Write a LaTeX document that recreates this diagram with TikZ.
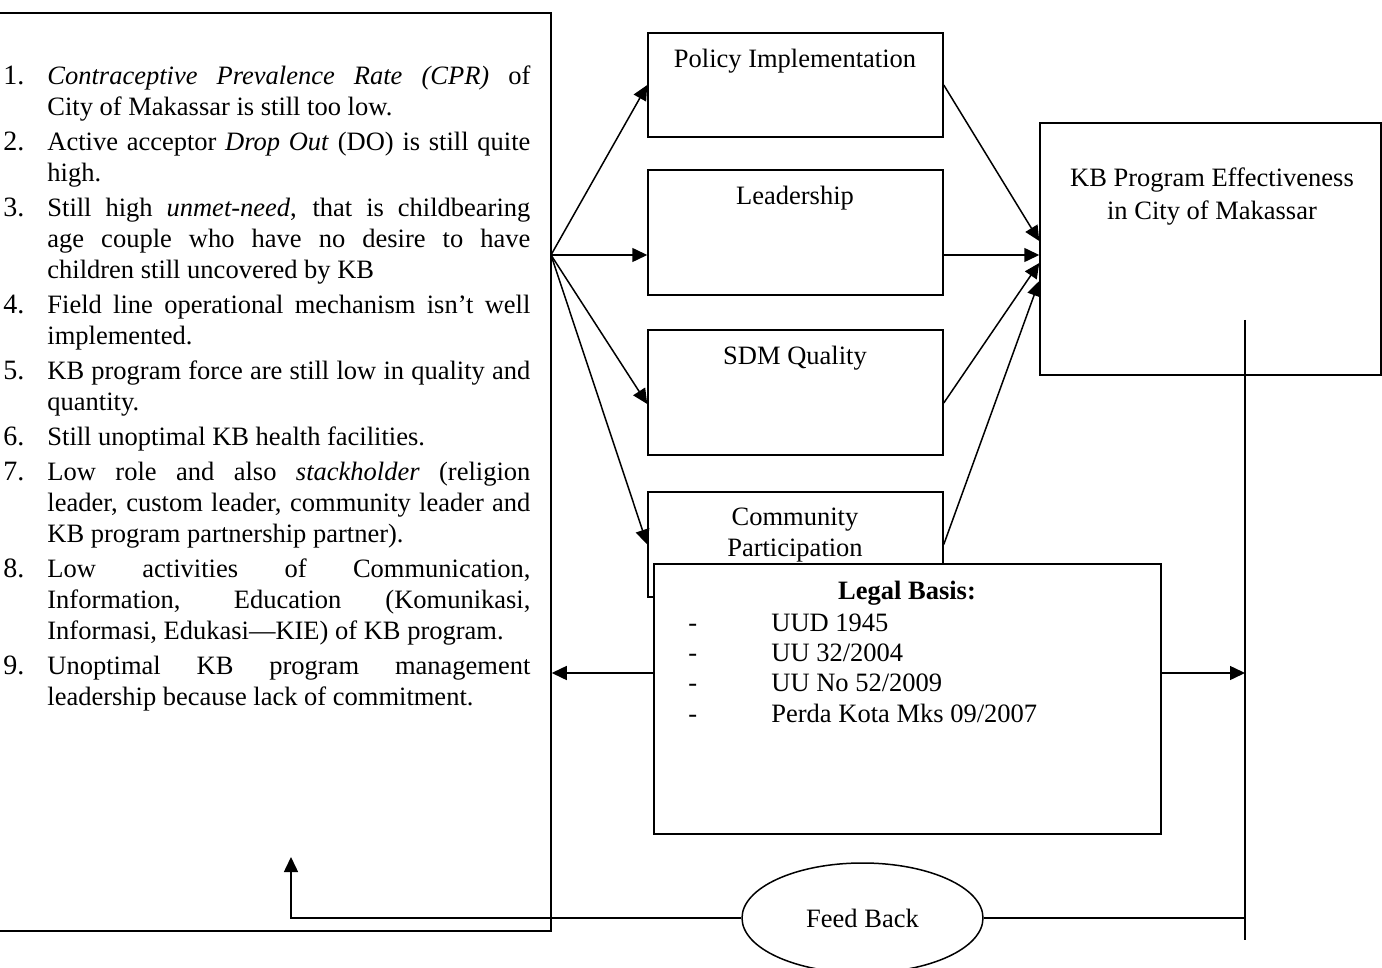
\documentclass[tikz,border=0pt]{standalone}
\usepackage{fontspec}
\setmainfont{Liberation Serif}
\usetikzlibrary{arrows.meta,shapes.geometric}
\newcommand\probitem[2]{\noindent\hangindent=22pt\hangafter=1\makebox[22pt][l]{\fontsize{14}{15.5}\selectfont #1}#2\par}
\newcommand\legalitem[1]{\makebox[41.5pt][l]{-}#1}
\begin{document}
\begin{tikzpicture}[x=0.5pt,y=-0.5pt,
  every node/.style={font=\fontsize{13.25}{15.5}\selectfont},
  box/.style={draw,line width=0.75pt,inner sep=0pt,fill=white},
  lbl/.style={inner sep=0pt},
  arr/.style={line width=0.75pt,-{Triangle[length=7.5pt,width=7pt]}},
  ln/.style={line width=0.75pt}]
\useasboundingbox (0,0) rectangle (1382,968);

% boxes
\node[box,minimum width=277pt,minimum height=459pt] (prob) at (274,472) {};
\node[box,minimum width=147.5pt,minimum height=52pt] (pol) at (795.5,85) {};
\node[box,minimum width=147.5pt,minimum height=62.5pt] (lead) at (795.5,232.5) {};
\node[box,minimum width=147.5pt,minimum height=62.5pt] (sdm) at (795.5,392.5) {};
\node[box,minimum width=147.5pt,minimum height=52.5pt] (comm) at (795.5,544.5) {};
\node[box,minimum width=170.5pt,minimum height=126pt] (kb) at (1210.5,249) {};

% box texts
\node[lbl] (polt) at (795,61) {Policy Implementation};
\node[lbl] (leadt) at (795,198) {Leadership};
\node[lbl] (sdmt) at (795,358) {SDM Quality};
\node[lbl,align=center] (commt) at (795,535) {Community\\Participation};
\node[lbl,align=center,font=\fontsize{13.25}{16.5}\selectfont] (kbt) at (1212,197) {KB Program Effectiveness\\in City of Makassar};

% problem list
\node[lbl,anchor=base west,text width=263.5pt,align=justify] (list) at (3,85) {%
\setlength{\parskip}{2pt}\tolerance=9999\hfuzz=6pt%
\probitem{1.}{\textit{Contraceptive Prevalence Rate (CPR)} of\linebreak City of Makassar is still too low.}%
\probitem{2.}{Active acceptor \textit{Drop Out} (DO) is still quite\linebreak high.}%
\probitem{3.}{Still high \textit{unmet-need}, that is childbearing\linebreak age couple who have no desire to have\linebreak children still uncovered by KB}%
\probitem{4.}{Field line operational mechanism isn’t well\linebreak implemented.}%
\probitem{5.}{KB program force are still low in quality and\linebreak quantity.}%
\probitem{6.}{Still unoptimal KB health facilities.}%
\probitem{7.}{Low role and also \textit{stackholder} (religion\linebreak leader, custom leader, community leader and\linebreak KB program partnership partner).}%
\probitem{8.}{Low activities of Communication,\linebreak Information, Education (Komunikasi,\linebreak Informasi, Edukasi---KIE) of KB program.}%
\probitem{9.}{Unoptimal KB program management\linebreak leadership because lack of commitment.}};

% connectors from problems
\coordinate (src) at (551,255);
\draw[arr] (src) -- (pol.west);
\draw[arr] (src) -- (lead.west |- src);
\draw[arr] (src) -- ([yshift=-5.75pt]sdm.west);
\draw[arr] (src) -- (comm.west);

% connectors to effectiveness
\draw[arr] (pol.east) -- ([yshift=4pt]kb.west);
\draw[arr] (lead.east |- src) -- (kb.west |- src);
\draw[arr] ([yshift=-5.25pt]sdm.east) -- ([yshift=-7pt]kb.west);
\draw[arr] (comm.east) -- ([yshift=-16pt]kb.west);

% legal basis
\node[box,minimum width=253.5pt,minimum height=135pt] (legal) at (907.5,699) {};
\node[lbl,font=\fontsize{13.25}{15.5}\selectfont\bfseries] (legt) at (907,593) {Legal Basis:};
\node[lbl,anchor=base west] (l1) at (688,631) {\legalitem{UUD 1945}};
\node[lbl,anchor=base west] (l2) at (688,661) {\legalitem{UU 32/2004}};
\node[lbl,anchor=base west] (l3) at (688,691) {\legalitem{UU No 52/2009}};
\node[lbl,anchor=base west] (l4) at (688,722) {\legalitem{Perda Kota Mks 09/2007}};

% feedback loop
\coordinate (vtop) at (1245,320);
\coordinate (vbot) at (1245,940);
\coordinate (ly) at (0,673);
\coordinate (fbup) at (291,857);
\node[draw,ellipse,line width=0.75pt,inner sep=0pt,minimum width=120.5pt,minimum height=55pt,fill=white] (fb) at (862.5,918) {Feed Back};
\draw[ln] (vtop) -- (vbot);
\draw[arr] (legal.west |- ly) -- (prob.east |- ly);
\draw[arr] (legal.east |- ly) -- (vtop |- ly);
\draw[ln] (fb.east) -- (vtop |- fb.east);
\draw[arr] (fb.west) -- (fbup |- fb.west) -- (fbup);
\end{tikzpicture}
\end{document}
